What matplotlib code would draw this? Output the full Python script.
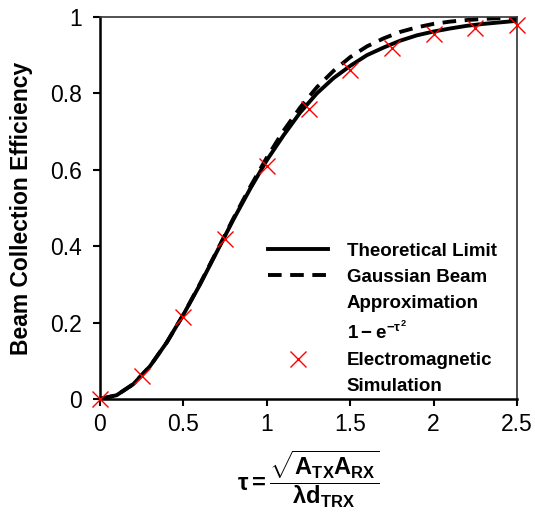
import matplotlib
matplotlib.use('Agg')
import matplotlib.pyplot as plt
from matplotlib.lines import Line2D

plt.rcParams['font.family'] = ['Liberation Sans', 'DejaVu Sans']
plt.rcParams['mathtext.fontset'] = 'custom'
plt.rcParams['mathtext.rm'] = 'Liberation Sans:bold'
plt.rcParams['mathtext.it'] = 'Liberation Sans:bold'
plt.rcParams['mathtext.bf'] = 'Liberation Sans:bold'

# Curvas (passo 0.1)
tau_curva = [0.0, 0.1, 0.2, 0.3, 0.4, 0.5, 0.6, 0.7, 0.8, 0.9, 1.0, 1.1, 1.2,
             1.3, 1.4, 1.5, 1.6, 1.7, 1.8, 1.9, 2.0, 2.1, 2.2, 2.3, 2.4, 2.5]
limite_teorico = [0.0, 0.010, 0.039, 0.086, 0.148, 0.221, 0.300, 0.385, 0.470,
                  0.550, 0.625, 0.690, 0.750, 0.800, 0.840, 0.872, 0.900, 0.920,
                  0.938, 0.952, 0.962, 0.970, 0.977, 0.982, 0.986, 0.990]
gaussiano = [0.0, 0.010, 0.039, 0.086, 0.148, 0.221, 0.302, 0.387, 0.473, 0.555,
             0.632, 0.702, 0.763, 0.816, 0.859, 0.895, 0.923, 0.944, 0.961,
             0.973, 0.982, 0.988, 0.992, 0.995, 0.997, 0.998]

# Simulação eletromagnética
tau_sim = [0.0, 0.25, 0.5, 0.75, 1.0, 1.25, 1.5, 1.75, 2.0, 2.25, 2.5]
eficiencia_sim = [0.0, 0.06, 0.215, 0.42, 0.61, 0.76, 0.86, 0.92, 0.955, 0.97, 0.978]

fig = plt.figure(figsize=(5.35, 5.13), dpi=100)
ax = fig.add_axes([100 / 535, 114 / 513, 417 / 535, 382 / 513])

tracejado = (0, (3.5, 2.2))
l1, = ax.plot(tau_curva, limite_teorico, color='black', lw=2.8)
l2, = ax.plot(tau_curva, gaussiano, color='black', lw=2.8, ls=tracejado)
l3, = ax.plot(tau_sim, eficiencia_sim, ls='none', marker='x', color='red', ms=11,
              mew=1.0, clip_on=False, zorder=5)

ax.set_xlim(0, 2.5)
ax.set_ylim(0, 1)
ax.set_xticks([0, 0.5, 1, 1.5, 2, 2.5])
ax.set_xticklabels(['0', '0.5', '1', '1.5', '2', '2.5'])
ax.set_yticks([0, 0.2, 0.4, 0.6, 0.8, 1])
ax.set_yticklabels(['0', '0.2', '0.4', '0.6', '0.8', '1'])
ax.tick_params(direction='out', length=5, width=1.5, labelsize=16.5)
ax.tick_params(axis='x', pad=5)
ax.tick_params(axis='y', pad=8)

for lado in ['left', 'bottom']:
    ax.spines[lado].set_linewidth(1.8)
for lado in ['top', 'right']:
    ax.spines[lado].set_linewidth(1.2)
    ax.spines[lado].set_color('#333333')

ax.set_ylabel('Beam Collection Efficiency', fontsize=16.5, fontweight='bold', labelpad=12)
ax.set_xlabel(r'$\tau = \dfrac{\sqrt{A_{TX}A_{RX}}}{\lambda d_{TRX}}$', fontsize=17, labelpad=9)

# legenda: alças alinhadas com a primeira linha de cada texto
vazio = Line2D([], [], color='none')
l2_leg = Line2D([], [], color='black', lw=2.8, ls=tracejado)
handles = [l1, l2_leg, vazio, vazio, l3, vazio]
labels = ['Theoretical Limit', 'Gaussian Beam', 'Approximation',
          '$1-e^{-\\tau^2}$', 'Electromagnetic', 'Simulation']
ax.legend(handles, labels, loc='upper left', bbox_to_anchor=(0.403, 0.41),
          frameon=False, prop={'weight': 'bold', 'size': 13.5}, handlelength=3.2,
          handletextpad=1.0, labelspacing=0.48, borderaxespad=0, borderpad=0)

fig.savefig('out.png', dpi=100)
